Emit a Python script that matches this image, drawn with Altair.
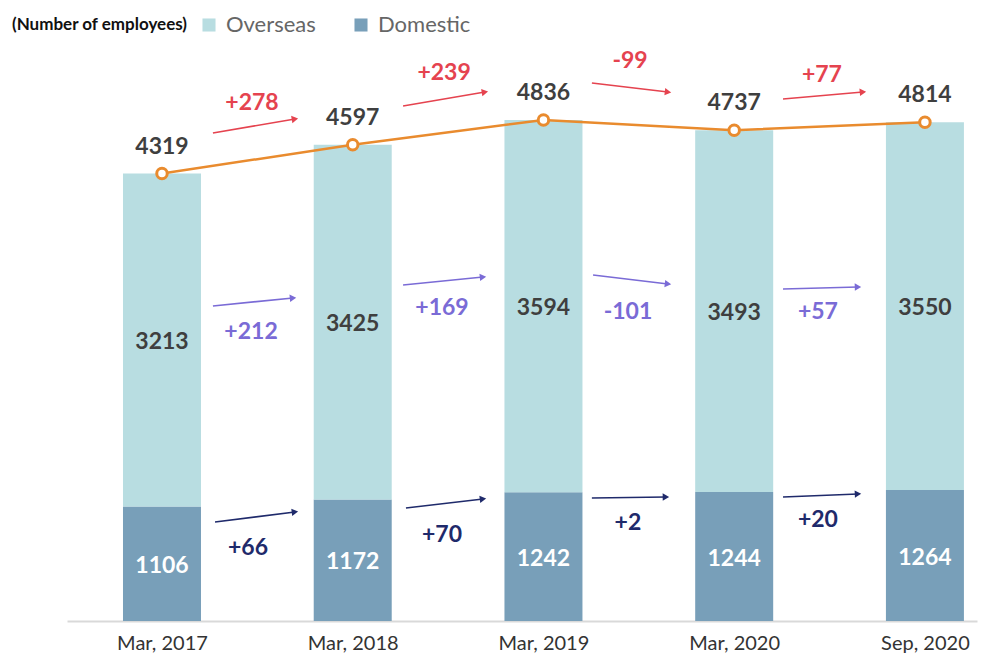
import math
import altair as alt
import pandas as pd

# ---- data ----
periods = ["Mar, 2017", "Mar, 2018", "Mar, 2019", "Mar, 2020", "Sep, 2020"]
overseas = [3213, 3425, 3594, 3493, 3550]
domestic = [1106, 1172, 1242, 1244, 1264]
totals = [4319, 4597, 4836, 4737, 4814]
chg_total = ["+278", "+239", "-99", "+77"]
chg_overseas = ["+212", "+169", "-101", "+57"]
chg_domestic = ["+66", "+70", "+2", "+20"]

# annotation geometry (data units: x = period index, y = employees)
red_x0 = [0.267, 1.264, 2.254, 3.256]
red_x1 = [0.697, 1.693, 2.653, 3.675]
red_y0 = [4710, 4971, 5193, 5039]
red_y1 = [4846, 5106, 5106, 5106]
red_lx = [0.472, 1.479, 2.454, 3.460]
red_ly = [5000, 5290, 5405, 5270]

pur_x0 = [0.267, 1.264, 2.260, 3.256]
pur_x1 = [0.687, 1.683, 2.653, 3.649]
pur_y0 = [3041, 3243, 3340, 3205]
pur_y1 = [3118, 3320, 3253, 3224]
pur_lx = [0.467, 1.468, 2.443, 3.439]
pur_ly = [2790, 3021, 2983, 2983]

nav_x0 = [0.278, 1.279, 2.254, 3.256]
nav_x1 = [0.697, 1.683, 2.642, 3.649]
nav_y0 = [956, 1091, 1187, 1197]
nav_y1 = [1052, 1178, 1197, 1226]
nav_lx = [0.451, 1.468, 2.443, 3.439]
nav_ly = [705, 830, 946, 975]

# ---- styling ----
FONT = "Lato"
C_OVER = "#b8dde1"
C_DOM = "#789fb9"
C_LINE = "#e98b2e"
C_RED = "#e5434f"
C_PUR = "#7a6bd6"
C_NAV = "#1f2a6b"
C_TXT = "#3f3f3f"

W, H = 910, 613
XMIN, XMAX = -0.498, 4.273
YMAX = 5917
px_x = W / (XMAX - XMIN)
px_y = H / YMAX

xscale = alt.Scale(domain=[XMIN, XMAX], nice=False, zero=False, padding=0)
yscale = alt.Scale(domain=[0, YMAX], nice=False, zero=True, padding=0)

# ---- tables ----
rows = []
for i, p in enumerate(periods):
    rows.append({"idx": i, "period": p, "series": "Domestic", "value": domestic[i], "ord": 0})
    rows.append({"idx": i, "period": p, "series": "Overseas", "value": overseas[i], "ord": 1})
bars_df = pd.DataFrame(rows)

tot_df = pd.DataFrame({"idx": list(range(len(periods))), "total": totals,
                       "over_mid": [d + o / 2 for d, o in zip(domestic, overseas)],
                       "dom_mid": [d / 2 for d in domestic],
                       "over": overseas, "dom": domestic})

arr_rows = []
lab_rows = []
for color, x0s, x1s, y0s, y1s, lxs, lys, texts in [
    (C_RED, red_x0, red_x1, red_y0, red_y1, red_lx, red_ly, chg_total),
    (C_PUR, pur_x0, pur_x1, pur_y0, pur_y1, pur_lx, pur_ly, chg_overseas),
    (C_NAV, nav_x0, nav_x1, nav_y0, nav_y1, nav_lx, nav_ly, chg_domestic),
]:
    for x0, x1, y0, y1, lx, ly, t in zip(x0s, x1s, y0s, y1s, lxs, lys, texts):
        ang = math.degrees(math.atan2(-(y1 - y0) * px_y, (x1 - x0) * px_x)) % 360
        arr_rows.append({"x0": x0, "x1": x1, "y0": y0, "y1": y1, "color": color, "angle": ang})
        lab_rows.append({"x": lx, "y": ly, "text": t, "color": color})
arr_df = pd.DataFrame(arr_rows)
lab_df = pd.DataFrame(lab_rows)

label_expr = "[" + ",".join("'" + p + "'" for p in periods) + "][datum.value]"

bars = alt.Chart(bars_df).mark_bar(size=78).encode(
    x=alt.X("idx:Q", scale=xscale,
            axis=alt.Axis(values=list(range(len(periods))), labelExpr=label_expr, title=None,
                          ticks=False, grid=False, domainColor="#d9d9d9", domainWidth=2,
                          labelFont=FONT, labelFontSize=20, labelColor="#333333",
                          labelBaseline="alphabetic", labelPadding=28)),
    y=alt.Y("value:Q", stack="zero", scale=yscale, axis=None),
    color=alt.Color("series:N",
                    scale=alt.Scale(domain=["Overseas", "Domestic"], range=[C_OVER, C_DOM]),
                    legend=alt.Legend(orient="none", legendX=-55, legendY=6, direction="horizontal",
                                      title="(Number of employees)", titleOrient="left",
                                      titleFont=FONT, titleFontSize=17, titleFontWeight="bold",
                                      titleColor="#111111", titlePadding=10,
                                      titleBaseline="middle", titleAnchor="middle",
                                      labelFont=FONT, labelFontSize=22, labelColor="#666666",
                                      labelOffset=6, symbolType="square", symbolSize=170,
                                      symbolStrokeWidth=0, columnPadding=34, padding=0)),
    order=alt.Order("ord:Q", sort="ascending"),
)

xq = alt.X("idx:Q", scale=xscale)

line = alt.Chart(tot_df).mark_line(color=C_LINE, strokeWidth=2.5).encode(
    x=xq, y=alt.Y("total:Q", scale=yscale))
pts = alt.Chart(tot_df).mark_point(filled=True, fill="white", stroke=C_LINE, strokeWidth=3,
                                   size=110, opacity=1).encode(
    x=xq, y=alt.Y("total:Q", scale=yscale))

txt_common = dict(font=FONT, fontSize=23, fontWeight="bold", baseline="middle", align="center")
tot_txt = alt.Chart(tot_df).mark_text(color=C_TXT, dy=-27, **txt_common).encode(
    x=xq, y=alt.Y("total:Q", scale=yscale), text="total:Q")
over_txt = alt.Chart(tot_df).mark_text(color=C_TXT, dy=2, **txt_common).encode(
    x=xq, y=alt.Y("over_mid:Q", scale=yscale), text="over:Q")
dom_txt = alt.Chart(tot_df).mark_text(color="white", dy=2, **txt_common).encode(
    x=xq, y=alt.Y("dom_mid:Q", scale=yscale), text="dom:Q")

arrows = alt.Chart(arr_df).mark_rule(strokeWidth=1.6).encode(
    x=alt.X("x0:Q", scale=xscale), x2="x1:Q",
    y=alt.Y("y0:Q", scale=yscale), y2="y1:Q",
    color=alt.Color("color:N", scale=None))
heads = alt.Chart(arr_df).mark_point(shape="triangle-right", filled=True, size=55, opacity=1).encode(
    x=alt.X("x1:Q", scale=xscale), y=alt.Y("y1:Q", scale=yscale),
    color=alt.Color("color:N", scale=None),
    angle=alt.Angle("angle:Q", scale=None))
chg_txt = alt.Chart(lab_df).mark_text(**txt_common).encode(
    x=alt.X("x:Q", scale=xscale), y=alt.Y("y:Q", scale=yscale),
    text="text:N", color=alt.Color("color:N", scale=None))

chart = alt.layer(bars, line, pts, tot_txt, over_txt, dom_txt, arrows, heads, chg_txt).properties(
    width=W, height=H,
    autosize=alt.AutoSizeParams(type="none"),
    padding={"left": 59, "top": 0, "right": 7, "bottom": 33},
).configure_view(stroke=None)

chart.save("out.html", embed_options={"renderer": "svg", "actions": False})
